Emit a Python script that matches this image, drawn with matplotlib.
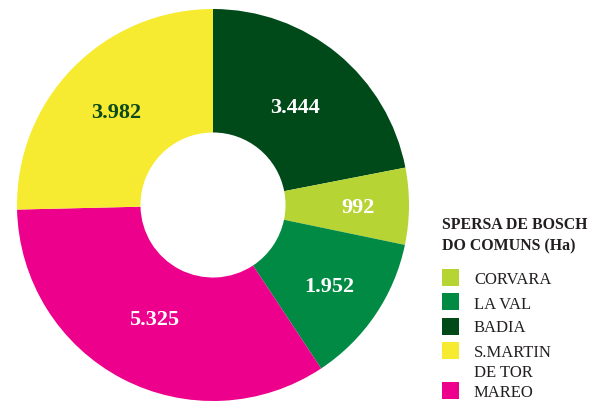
import matplotlib
matplotlib.use("Agg")
import matplotlib.pyplot as plt
from matplotlib.patches import Rectangle
import numpy as np

# dati (ordine orario a partire dall'alto)
comuns = ['BADIA', 'CORVARA', 'LA VAL', 'MAREO', 'S.MARTIN\nDE TOR']
ettari = [3444, 992, 1952, 5325, 3982]
etichette = ['3.444', '992', '1.952', '5.325', '3.982']
colori = ['#004a1a', '#b6d433', '#008a43', '#ec008c', '#f6eb30']
col_testo = ['white', 'white', 'white', 'white', '#0b4a1c']
dist = [0.66, 0.74, 0.72, 0.65, 0.69]

ordine_legenda = ['CORVARA', 'LA VAL', 'BADIA', 'S.MARTIN\nDE TOR', 'MAREO']
titolo = 'SPERSA DE BOSCH\nDO COMUNS (Ha)'

W, H = 593, 401
fig = plt.figure(figsize=(W / 100, H / 100), dpi=100)
plt.rcParams['font.family'] = ['Liberation Serif', 'DejaVu Serif']

# torta ad anello
cx, cy, R = 213, 205, 196
ax = fig.add_axes([(cx - R) / W, (H - cy - R) / H, 2 * R / W, 2 * R / H])
wedges, _ = ax.pie(ettari, colors=colori, startangle=90, counterclock=False,
                   radius=1, wedgeprops=dict(width=0.63, linewidth=0))
ax.set_xlim(-1, 1)
ax.set_ylim(-1, 1)
ax.set_aspect('equal')
ax.axis('off')

for w, lab, c, d in zip(wedges, etichette, col_testo, dist):
    ang = np.deg2rad((w.theta1 + w.theta2) / 2)
    ax.text(d * np.cos(ang), d * np.sin(ang), lab, ha='center', va='center_baseline',
            fontsize=16, fontweight='bold', color=c)

# legenda
for riga, yb in zip(titolo.split('\n'), [229, 250]):
    fig.text(442 / W, 1 - yb / H, riga, ha='left', va='baseline', fontsize=11.4,
             fontweight='bold', color='#231f20')

quadri = [277.5, 301.5, 326, 350.5, 390.5]
basi = [284, 309, 332, 357, 397]
for nome, yq, yb in zip(ordine_legenda, quadri, basi):
    i = comuns.index(nome)
    fig.add_artist(Rectangle((442 / W, 1 - (yq + 8.5) / H), 17 / W, 17 / H,
                             transform=fig.transFigure, facecolor=colori[i],
                             edgecolor='none'))
    for k, riga in enumerate(nome.split('\n')):
        fig.text(474 / W, 1 - (yb + 20 * k) / H, riga, ha='left', va='baseline',
                 fontsize=12, color='#231f20')

fig.savefig('out.png', dpi=100)
